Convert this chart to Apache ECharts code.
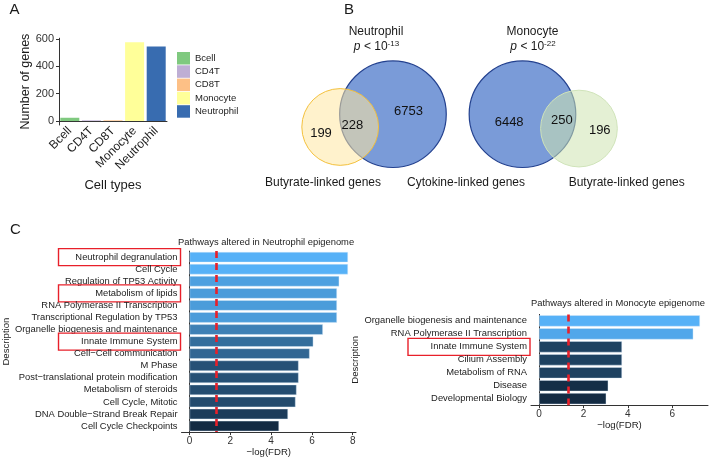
<!DOCTYPE html>
<html>
<head>
<meta charset="utf-8">
<script src="https://cdn.jsdelivr.net/npm/echarts@6/dist/echarts.min.js"></script>
<style>
  html, body { margin: 0; padding: 0; background: #fff; }
  #main { width: 709px; height: 458px; }
</style>
</head>
<body>
<div id="main"></div>
<script>
// panel A: number of genes per cell type
var cellTypes = ['Bcell', 'CD4T', 'CD8T', 'Monocyte', 'Neutrophil'];
var geneCounts = [24, 5, 5, 576, 545];
var cellColors = ['#7FC97F', '#BEAED4', '#FDC086', '#FFFF99', '#386CB0'];
var countTicks = [0, 200, 400, 600];

// panel B: venn sets (x, y, r in radius units of the cytokine circle) and region counts
var vennCircles = [[0, 0, 1], [-0.99, 0.24, 0.72], [2.43, 0, 1], [3.49, 0.27, 0.72]];
var vennCounts = [[-1.35, 0.36, '199'], [-0.76, 0.22, '228'], [0.29, -0.05, '6753'],
                  [2.18, 0.15, '6448'], [3.17, 0.11, '250'], [3.88, 0.30, '196']];

// panel C: pathway enrichment
var neuPathways = ['Neutrophil degranulation', 'Cell Cycle', 'Regulation of TP53 Activity',
  'Metabolism of lipids', 'RNA Polymerase II Transcription', 'Transcriptional Regulation by TP53',
  'Organelle biogenesis and maintenance', 'Innate Immune System', 'Cell\u2212Cell communication',
  'M Phase', 'Post\u2212translational protein modification', 'Metabolism of steroids',
  'Cell Cycle, Mitotic', 'DNA Double\u2212Strand Break Repair', 'Cell Cycle Checkpoints'];
var neuLogFDR = [7.77, 7.77, 7.34, 7.23, 7.23, 7.23, 6.54, 6.07, 5.89, 5.35, 5.35, 5.25, 5.20, 4.83, 4.39];
var neuBoxed = ['Neutrophil degranulation', 'Metabolism of lipids', 'Innate Immune System'];

var monoPathways = ['Organelle biogenesis and maintenance', 'RNA Polymerase II Transcription',
  'Innate Immune System', 'Cilium Assembly', 'Metabolism of RNA', 'Disease', 'Developmental Biology'];
var monoLogFDR = [7.25, 6.95, 3.74, 3.74, 3.74, 3.12, 3.03];
var monoBoxed = ['Innate Immune System'];

var fdrTicksNeu = [0, 2, 4, 6, 8];
var fdrTicksMono = [0, 2, 4, 6];
var fdrCutoff = 1.3;

var FONT = 'Liberation Sans';
var RED = '#e8202a';

var vennStyles = [
  { fill: '#7a9bd8', stroke: '#23418f', lineWidth: 1.2 },
  { fill: 'rgba(255,231,162,0.55)', stroke: '#f3c03c', lineWidth: 1 },
  { fill: '#7a9bd8', stroke: '#23418f', lineWidth: 1.2 },
  { fill: 'rgba(206,228,177,0.55)', stroke: '#cfe3b9', lineWidth: 1 }
];

function shade(v, lo, hi) {
  var t = (v - lo) / (hi - lo);
  var a = [19, 43, 67], b = [86, 177, 247];
  return 'rgb(' + a.map(function (x, i) { return Math.round(x + (b[i] - x) * t); }).join(',') + ')';
}

function pathwayLabel(boxed) {
  return {
    interval: 0,
    margin: 1,
    color: '#222',
    fontFamily: FONT,
    fontSize: 9.4,
    formatter: function (v) { return boxed.indexOf(v) >= 0 ? '{b|' + v + '}' : '{n|' + v + '}'; },
    rich: {
      n: { fontSize: 9.4, fontFamily: FONT, color: '#222', padding: [0, 3, 0, 0] },
      b: { fontSize: 9.4, fontFamily: FONT, color: '#222', width: 116, height: 14, align: 'right',
           padding: [1.5, 3, 1.5, 3], borderColor: RED, borderWidth: 1.4 }
    }
  };
}

function valueAxis(gridIndex, min, max, ticks, name) {
  return {
    type: 'value', gridIndex: gridIndex, min: min, max: max,
    splitLine: { show: false },
    axisLine: { show: true, lineStyle: { color: '#333', width: 1 } },
    axisTick: { show: true, length: 3, customValues: ticks, lineStyle: { color: '#333' } },
    axisLabel: { customValues: ticks, margin: 4, fontSize: 10, color: '#333', fontFamily: FONT },
    name: name, nameLocation: 'middle', nameGap: 14,
    nameTextStyle: { fontSize: 9.6, color: '#222', fontFamily: FONT }
  };
}

var chart = echarts.init(document.getElementById('main'));

var series = cellTypes.map(function (c, i) {
  return {
    name: c, type: 'bar', stack: 'genes', xAxisIndex: 0, yAxisIndex: 0,
    barCategoryGap: '12%',
    itemStyle: { color: cellColors[i] },
    data: geneCounts.map(function (v, j) { return j === i ? v : '-'; })
  };
});

series.push({
  type: 'custom', xAxisIndex: 1, yAxisIndex: 1, silent: true,
  data: vennCircles,
  renderItem: function (params, api) {
    var c = api.coord([api.value(0), api.value(1)]);
    var s = api.size([api.value(2), api.value(2)]);
    return { type: 'circle', shape: { cx: c[0], cy: c[1], r: s[0] }, style: vennStyles[params.dataIndex] };
  }
});
series.push({
  type: 'custom', xAxisIndex: 1, yAxisIndex: 1, silent: true,
  data: vennCounts,
  renderItem: function (params, api) {
    var c = api.coord([api.value(0), api.value(1)]);
    return { type: 'text', x: c[0], y: c[1],
      style: { text: vennCounts[params.dataIndex][2], fill: '#111', font: '13px "Liberation Sans"',
               align: 'center', verticalAlign: 'middle' } };
  }
});

function pathwaySeries(idx, values) {
  var lo = Math.min.apply(null, values), hi = Math.max.apply(null, values);
  return {
    type: 'bar', xAxisIndex: idx, yAxisIndex: idx, barCategoryGap: '13%',
    itemStyle: { color: function (p) { return shade(p.value, lo, hi); },
                 borderColor: 'rgba(220,235,250,0.7)', borderWidth: 0.6 },
    data: values,
    markLine: {
      silent: true, symbol: ['none', 'none'], label: { show: false },
      lineStyle: { color: RED, width: 2.6, type: [7, 5] },
      data: [{ xAxis: fdrCutoff }]
    }
  };
}
series.push(pathwaySeries(2, neuLogFDR));
series.push(pathwaySeries(3, monoLogFDR));

function txt(x, y, text, size) {
  return { type: 'text', x: x, y: y, silent: true,
    style: { text: text, align: 'center', verticalAlign: 'middle', fontSize: size, fontFamily: FONT, fill: '#1a1a1a' } };
}
var pRich = {
  i: { fontStyle: 'italic', fontSize: 12, fontFamily: FONT, fill: '#1a1a1a' },
  t: { fontSize: 12, fontFamily: FONT, fill: '#1a1a1a' },
  s: { fontSize: 8, fontFamily: FONT, fill: '#1a1a1a', padding: [0, 0, 7, 0] }
};

chart.setOption({
  animation: false,
  textStyle: { fontFamily: FONT },
  title: [
    { text: 'Pathways altered in Neutrophil epigenome', left: 178, top: 237.5, padding: 0,
      textStyle: { fontSize: 9.4, fontWeight: 'normal', color: '#222', fontFamily: FONT } },
    { text: 'Pathways altered in Monocyte epigenome', left: 531, top: 299, padding: 0,
      textStyle: { fontSize: 9.4, fontWeight: 'normal', color: '#222', fontFamily: FONT } }
  ],
  legend: {
    data: cellTypes, orient: 'vertical', left: 177, top: 52, padding: 0,
    icon: 'rect', itemWidth: 13, itemHeight: 12.5, itemGap: 0.8,
    textStyle: { fontSize: 9.5, color: '#222', fontFamily: FONT }
  },
  grid: [
    { left: 59, top: 38.2, width: 108, height: 86.8 },
    { left: 240, top: 40, width: 469, height: 140 },
    { left: 178, top: 251.1, width: 178, height: 182.2 },
    { left: 531, top: 314.4, width: 177, height: 90.8 }
  ],
  xAxis: [
    { type: 'category', gridIndex: 0, data: cellTypes,
      axisLine: { lineStyle: { color: '#333' } },
      axisTick: { alignWithLabel: true, interval: 0, length: 3, lineStyle: { color: '#333' } },
      axisLabel: { interval: 0, rotate: 45, margin: 4, fontSize: 12, color: '#222', fontFamily: FONT },
      name: 'Cell types', nameLocation: 'middle', nameGap: 54,
      nameTextStyle: { fontSize: 13, color: '#1a1a1a', fontFamily: FONT } },
    { type: 'value', gridIndex: 1, min: -2.87, max: 5.93, show: false },
    valueAxis(2, -0.39, 8.16, fdrTicksNeu, '\u2212log(FDR)'),
    valueAxis(3, -0.36, 7.61, fdrTicksMono, '\u2212log(FDR)')
  ],
  yAxis: [
    { type: 'value', gridIndex: 0, min: -29, max: 606, splitLine: { show: false },
      axisLine: { show: true, lineStyle: { color: '#333' } },
      axisTick: { show: true, length: 3, customValues: countTicks, lineStyle: { color: '#333' } },
      axisLabel: { customValues: countTicks, margin: 5, fontSize: 11, color: '#333', fontFamily: FONT },
      name: 'Number of genes', nameLocation: 'middle', nameGap: 27,
      nameTextStyle: { fontSize: 12.5, color: '#1a1a1a', fontFamily: FONT } },
    { type: 'value', gridIndex: 1, min: -1.392, max: 1.235, inverse: true, show: false },
    { type: 'category', gridIndex: 2, data: neuPathways, inverse: true,
      axisLine: { lineStyle: { color: '#333' } },
      axisTick: { length: 3, interval: 0, alignWithLabel: true, lineStyle: { color: '#333' } },
      axisLabel: pathwayLabel(neuBoxed),
      name: 'Description', nameLocation: 'middle', nameGap: 165, nameRotate: 90,
      nameTextStyle: { fontSize: 9.6, color: '#222', fontFamily: FONT } },
    { type: 'category', gridIndex: 3, data: monoPathways, inverse: true,
      axisLine: { lineStyle: { color: '#333' } },
      axisTick: { length: 3, interval: 0, alignWithLabel: true, lineStyle: { color: '#333' } },
      axisLabel: pathwayLabel(monoBoxed),
      name: 'Description', nameLocation: 'middle', nameGap: 159, nameRotate: 90,
      nameTextStyle: { fontSize: 9.6, color: '#222', fontFamily: FONT } }
  ],
  graphic: [
    txt(14.5, 10, 'A', 15),
    txt(349, 10, 'B', 15),
    txt(15.5, 230, 'C', 15),
    txt(376, 32, 'Neutrophil', 12),
    { type: 'text', x: 376.5, y: 47, silent: true,
      style: { text: '{i|p}{t| < 10}{s|-13}', rich: pRich, align: 'center', verticalAlign: 'middle' } },
    txt(532.5, 32, 'Monocyte', 12),
    { type: 'text', x: 533, y: 47, silent: true,
      style: { text: '{i|p}{t| < 10}{s|-22}', rich: pRich, align: 'center', verticalAlign: 'middle' } },
    txt(323, 183, 'Butyrate-linked genes', 12),
    txt(466, 183, 'Cytokine-linked genes', 12),
    txt(626.7, 183, 'Butyrate-linked genes', 12)
  ],
  series: series
});
</script>
</body>
</html>
